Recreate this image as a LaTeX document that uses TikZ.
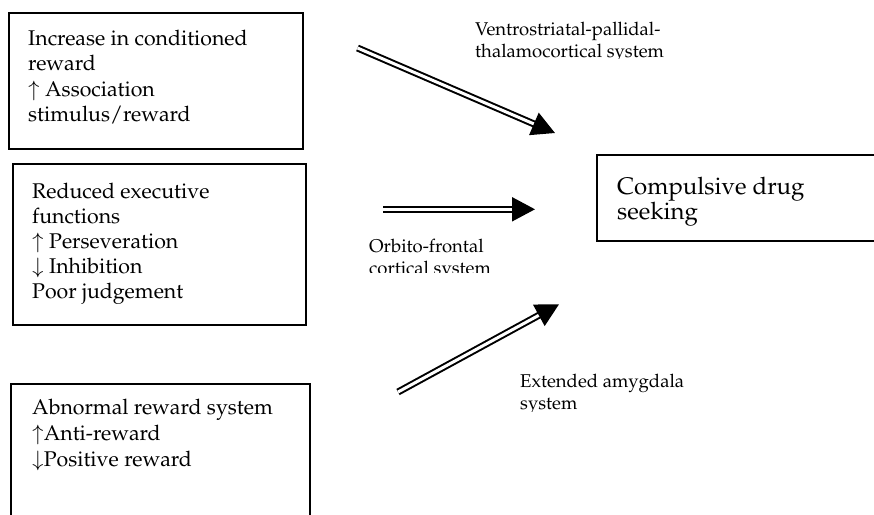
\documentclass[tikz,border=0pt]{standalone}
\usepackage[T1]{fontenc}
\usepackage{mathpazo}
\usetikzlibrary{arrows.meta}
\begin{document}
% multi-line nodes are placed by the baseline of their last line
\begin{tikzpicture}[x=1pt,y=-1pt,
  frame/.style={draw, line width=1.6pt, inner sep=0pt, anchor=north west},
  boxtext/.style={anchor=base west, inner sep=0pt, align=left,
    font=\fontsize{21.3}{25.5}\selectfont},
  goaltext/.style={anchor=base west, inner sep=0pt, align=left,
    font=\fontsize{24}{25}\selectfont},
  syslabel/.style={anchor=base west, inner sep=0pt, align=left,
    font=\fontsize{18.5}{22}\selectfont},
  dblarrow/.style={double, double distance=3pt, line width=2pt,
    -{Triangle[length=23pt,width=24pt]}}
]
\useasboundingbox (0,0) rectangle (874,514);
\clip (0,0) rectangle (874,514);

% frames
\node[frame, minimum width=294pt, minimum height=136pt] (b1) at (8,12) {};
\node[frame, minimum width=293pt, minimum height=161pt] (b2) at (12,163) {};
\node[frame, minimum width=299pt, minimum height=160pt] (b3) at (10,383) {};
\node[frame, minimum width=300pt, minimum height=86pt] (goal) at (596,154) {};

% box texts
\node[boxtext] (t1) at (28,121.5) {Increase in conditioned\\reward\\$\uparrow$ Association\\stimulus/reward};
\node[boxtext, font=\fontsize{21.3}{25}\selectfont] (t2) at (32,298) {Reduced executive\\functions\\$\uparrow$ Perseveration\\$\downarrow$ Inhibition\\Poor judgement};
\node[boxtext, font=\fontsize{21.3}{26}\selectfont] (t3) at (32,466) {Abnormal reward system\\$\uparrow$Anti-reward\\$\downarrow$Positive reward};
\node[goaltext] (tg) at (617,219) {Compulsive drug\\seeking};

% system labels, cut off at the bottom of their text areas
\begin{scope}
  \clip (470,0) rectangle (874,58.8);
  \node[syslabel] (l1) at (475,57) {Ventrostriatal-pallidal-\\thalamocortical system};
\end{scope}
\begin{scope}
  \clip (360,230) rectangle (560,272.5);
  \node[syslabel] (l2) at (369,274) {Orbito-frontal\\cortical system};
\end{scope}
\begin{scope}
  \clip (510,360) rectangle (874,411.2);
  \node[syslabel] (l3) at (520,409.5) {Extended amygdala\\system};
\end{scope}

% pathway arrows
\coordinate (a1s) at (357.5,48);  \coordinate (a1e) at (555,133);
\coordinate (a2s) at (383,209.3); \coordinate (a2e) at (535,209.3);
\coordinate (a3s) at (398,392);   \coordinate (a3e) at (559,304.3);
\draw[dblarrow] (a1s) -- (a1e);
\draw[dblarrow] (a2s) -- (a2e);
\draw[dblarrow] (a3s) -- (a3e);
\end{tikzpicture}
\end{document}
